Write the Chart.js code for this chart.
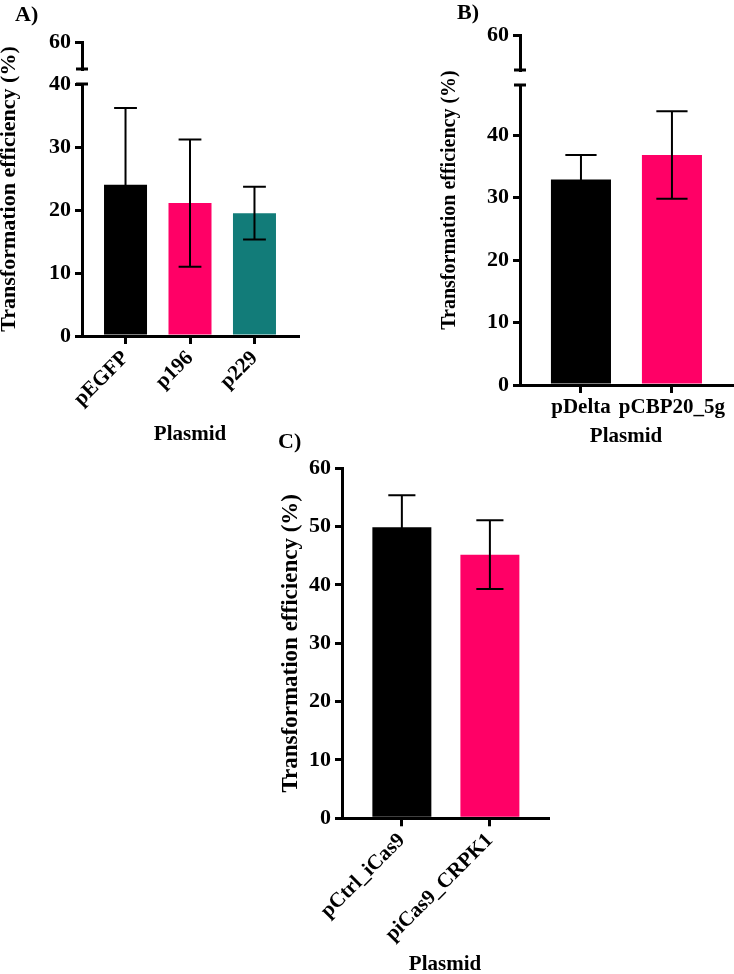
<!DOCTYPE html>
<html>
<head>
<meta charset="utf-8">
<script src="https://cdn.jsdelivr.net/npm/chart.js@4.4.1/dist/chart.umd.min.js"></script>
<style>
  html, body { margin: 0; padding: 0; background: #fff; }
  body { width: 734px; height: 974px; position: relative; overflow: hidden; }
  canvas { position: absolute; }
</style>
</head>
<body>
<canvas id="chartA" width="310" height="460" style="left:0;top:0"></canvas>
<canvas id="chartB" width="304" height="460" style="left:430px;top:0"></canvas>
<canvas id="chartC" width="300" height="554" style="left:260px;top:420px"></canvas>
<script>
// panel A
const plasmidsA = ['pEGFP', 'p196', 'p229'];
const meanA = [24.0, 21.1, 19.5];
const sdA = [12.2, 10.1, 4.2];
const ticksA = [0, 10, 20, 30, 40];
const ticksATop = [60];

// panel B
const plasmidsB = ['pDelta', 'pCBP20_5g'];
const meanB = [32.9, 36.8];
const sdB = [3.9, 7.0];
const ticksB = [0, 10, 20, 30, 40];
const ticksBTop = [60];

// panel C
const plasmidsC = ['pCtrl_iCas9', 'piCas9_CRPK1'];
const meanC = [49.9, 45.2];
const sdC = [5.5, 5.9];
const ticksC = [0, 10, 20, 30, 40, 50, 60];

Chart.defaults.font.family = "'Liberation Serif', 'Times New Roman', serif";
Chart.defaults.font.weight = 'bold';
Chart.defaults.color = '#000';
Chart.defaults.animation = false;
Chart.defaults.plugins.legend.display = false;
Chart.defaults.plugins.tooltip.enabled = false;

const yTitleText = 'Transformation efficiency (%)';

// mean +/- SD whiskers on top of the bars
const errorBars = {
    id: 'errorBars',
    afterDatasetsDraw(chart, args, opts) {
        const ctx = chart.ctx;
        const y = chart.scales.y;
        const meta = chart.getDatasetMeta(0);
        ctx.save();
        ctx.strokeStyle = '#000';
        ctx.lineWidth = 2;
        meta.data.forEach((bar, i) => {
            const v = chart.data.datasets[0].data[i].y;
            const top = y.getPixelForValue(v + opts.sd[i]);
            const bot = y.getPixelForValue(v - opts.sd[i]);
            const half = bar.width * opts.cap / 2;
            ctx.beginPath();
            ctx.moveTo(bar.x, top); ctx.lineTo(bar.x, bot);
            ctx.moveTo(bar.x - half, top); ctx.lineTo(bar.x + half, top);
            ctx.moveTo(bar.x - half, bot); ctx.lineTo(bar.x + half, bot);
            ctx.stroke();
        });
        ctx.restore();
    }
};

// short cross marks where the y axis is broken
const axisBreak = {
    id: 'axisBreak',
    afterDraw(chart, args, opts) {
        if (!opts.marks) return;
        const ctx = chart.ctx;
        const x = chart.chartArea.left;
        ctx.save();
        ctx.strokeStyle = '#000';
        ctx.lineWidth = 3;
        opts.marks.forEach(m => {
            const s = chart.scales[m.scale];
            const py = s.getPixelForValue(s[m.at]);
            ctx.beginPath();
            ctx.moveTo(x - 6, py);
            ctx.lineTo(x + 6, py);
            ctx.stroke();
        });
        ctx.restore();
    }
};

function points(values) {
    return values.map((v, i) => ({ x: i, y: v }));
}

function xAxis(labels, min, max, rot, height, titlePad) {
    return {
        type: 'linear', min: min, max: max, offset: false,
        afterBuildTicks: s => { s.ticks = labels.map((_, i) => ({ value: i })); },
        afterFit: s => { s.height = height; },
        ticks: { callback: v => labels[v], font: { size: 21 }, minRotation: rot, maxRotation: rot, autoSkip: false, padding: 2 },
        grid: { offset: false, drawOnChartArea: false, color: '#000', lineWidth: 3, tickLength: 8 },
        border: { color: '#000', width: 3 },
        title: { display: true, text: 'Plasmid', font: { size: 21 }, padding: { top: 0, bottom: titlePad } }
    };
}

function yAxis(min, max, values, extra) {
    return Object.assign({
        type: 'linear', position: 'left', min: min, max: max,
        afterBuildTicks: s => { s.ticks = values.map(v => ({ value: v })); },
        ticks: { font: { size: 22 }, padding: 4, autoSkip: false },
        grid: { drawOnChartArea: false, color: '#000', lineWidth: 3, tickLength: 7 },
        border: { color: '#000', width: 3 }
    }, extra);
}

function gapAxis(stack, weight, width) {
    return {
        type: 'linear', position: 'left', stack: stack, stackWeight: weight,
        ticks: { display: false }, grid: { display: false, drawTicks: false }, border: { display: false },
        afterFit: s => { s.width = width; }
    };
}

function titleAxis(size, pad, width, extra) {
    return Object.assign({
        type: 'linear', position: 'left',
        ticks: { display: false }, grid: { display: false, drawTicks: false }, border: { display: false },
        title: { display: true, text: yTitleText, font: { size: size }, padding: { top: pad, bottom: 0 } },
        afterFit: s => { s.width = width; }
    }, extra);
}

function panelTitle(text, top, bottom) {
    return { display: true, text: text, align: 'start', font: { size: 22 }, padding: { top: top, bottom: bottom } };
}

// A) broken axis: 0-40 below, 60 above
new Chart(document.getElementById('chartA'), {
    type: 'bar',
    data: {
        datasets: [{
            data: points(meanA),
            backgroundColor: ['#000000', '#FF0066', '#127C79'],
            borderWidth: 0,
            categoryPercentage: 1,
            barPercentage: 0.667
        }]
    },
    options: {
        responsive: false,
        layout: { padding: { left: 15, right: 12, top: 0, bottom: 0 } },
        plugins: {
            title: panelTitle('A)', 2, 13.6),
            errorBars: { sd: sdA, cap: 0.53 },
            axisBreak: { marks: [{ scale: 'yTop', at: 'min' }, { scale: 'y', at: 'max' }] }
        },
        scales: {
            x: xAxis(plasmidsA, -0.675, 2.675, 45, 124, 12.4),
            y: yAxis(0, 40, ticksA, { stack: 'a', stackWeight: 252, afterFit: s => { s.width = 57; } }),
            yGap: gapAxis('a', 15, 57),
            yTop: yAxis(55.71, 60, ticksATop, { stack: 'a', stackWeight: 27, afterFit: s => { s.width = 57; } }),
            yTitle: titleAxis(22, -19.2, 10)
        }
    },
    plugins: [errorBars, axisBreak]
});

// B) broken axis: 0-48 below, 60 above
new Chart(document.getElementById('chartB'), {
    type: 'bar',
    data: {
        datasets: [{
            data: points(meanB),
            backgroundColor: ['#000000', '#FF0066'],
            borderWidth: 0,
            categoryPercentage: 1,
            barPercentage: 0.66
        }]
    },
    options: {
        responsive: false,
        layout: { padding: { left: 27, right: 2, top: 0, bottom: 0 } },
        plugins: {
            title: panelTitle('B)', 0, 8.6),
            errorBars: { sd: sdB, cap: 0.52 },
            axisBreak: { marks: [{ scale: 'yTop', at: 'min' }, { scale: 'y', at: 'max' }] }
        },
        scales: {
            x: xAxis(plasmidsB, -0.67, 1.66, 0, 75, 10.4),
            y: yAxis(0, 48, ticksB, { stack: 'b', stackWeight: 300, afterFit: s => { s.width = 53; } }),
            yGap: gapAxis('b', 15, 53),
            yTop: yAxis(54.4, 60, ticksBTop, { stack: 'b', stackWeight: 35, afterFit: s => { s.width = 53; } }),
            ySpacer: gapAxis('bt', 20, 10),
            yTitle: titleAxis(20, -19, 10, { stack: 'bt', stackWeight: 330 })
        }
    },
    plugins: [errorBars, axisBreak]
});

// C) plain 0-60 axis
new Chart(document.getElementById('chartC'), {
    type: 'bar',
    data: {
        datasets: [{
            data: points(meanC),
            backgroundColor: ['#000000', '#FF0066'],
            borderWidth: 0,
            categoryPercentage: 1,
            barPercentage: 0.67
        }]
    },
    options: {
        responsive: false,
        layout: { padding: { left: 18, right: 12, top: 0, bottom: 0 } },
        plugins: {
            title: panelTitle('C)', 8.8, 13.1),
            errorBars: { sd: sdC, cap: 0.46 }
        },
        scales: {
            x: xAxis(plasmidsC, -0.68, 1.66, 45, 155.7, -3.6),
            y: yAxis(0, 60, ticksC, {
                afterFit: s => { s.width = 64; },
                title: { display: true, text: yTitleText, font: { size: 23 }, padding: { top: -0.8, bottom: 0 } }
            })
        }
    },
    plugins: [errorBars, axisBreak]
});
</script>
</body>
</html>
